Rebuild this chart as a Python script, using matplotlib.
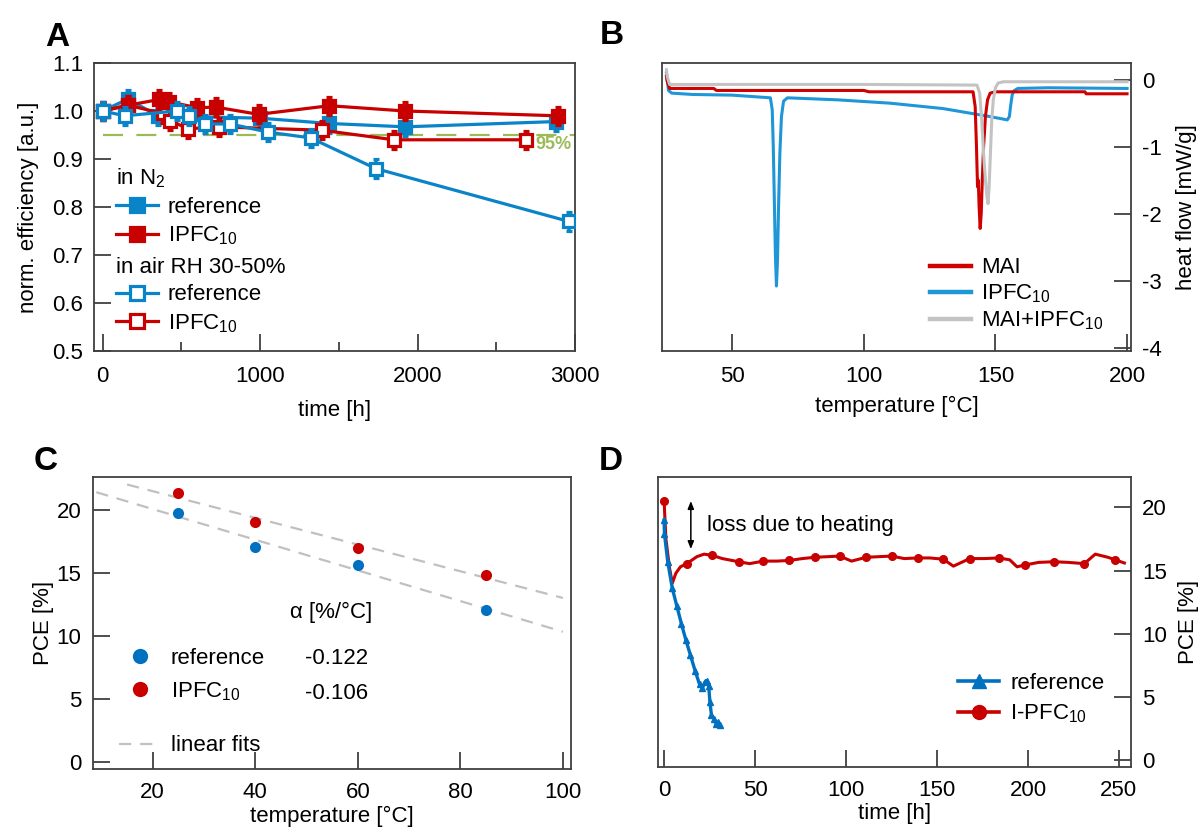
import numpy as np
import matplotlib
matplotlib.use('Agg')
import matplotlib.pyplot as plt
from matplotlib.lines import Line2D
from matplotlib.ticker import FixedLocator

plt.rcParams['font.family'] = ['Liberation Sans', 'DejaVu Sans']
plt.rcParams['mathtext.fontset'] = 'custom'
plt.rcParams['mathtext.rm'] = 'Liberation Sans'
plt.rcParams['mathtext.it'] = 'Liberation Sans:italic'
plt.rcParams['mathtext.default'] = 'regular'
plt.rcParams['axes.unicode_minus'] = False

# ---------------- Panel A: long-term stability ----------------
a_n2_ref_t = [0, 160, 350, 1000, 1440, 1920, 2880]
a_n2_ref_y = [1.0, 1.025, 0.99, 0.985, 0.974, 0.967, 0.978]
a_n2_ipfc_t = [0, 160, 360, 420, 600, 720, 990, 1440, 1920, 2890]
a_n2_ipfc_y = [1.0, 1.012, 1.024, 1.019, 1.007, 1.008, 0.993, 1.011, 1.0, 0.99]
a_air_ref_t = [0, 140, 470, 545, 650, 810, 1050, 1320, 1735, 2960]
a_air_ref_y = [1.0, 0.99, 1.0, 0.989, 0.973, 0.973, 0.956, 0.944, 0.880, 0.770]
a_air_ipfc_t = [0, 160, 380, 430, 540, 740, 1390, 1850, 2690]
a_air_ipfc_y = [1.0, 1.012, 0.995, 0.98, 0.963, 0.967, 0.96, 0.94, 0.94]
a_err = 0.019
a_threshold = 0.95
a_threshold_span = [0, 3000]

# ---------------- Panel B: DSC ----------------
b_mai_T = [25.0, 25.3, 26.2, 30, 43, 44, 100, 102, 141.5, 142.3, 142.8, 143.2, 143.5,
           143.8, 144.2, 144.6, 145.0, 145.5, 146.2, 147.0, 148.0, 150.0, 184.0, 184.5, 200]
b_mai_hf = [0.05, -0.02, -0.13, -0.13, -0.13, -0.16, -0.16, -0.18, -0.18, -0.4, -1.0, -1.6, -1.5,
            -1.9, -2.22, -2.0, -1.5, -1.0, -0.55, -0.3, -0.2, -0.18, -0.18, -0.21, -0.21]
b_ipfc_T = [25.0, 25.3, 25.8, 27.0, 35, 50, 64.5, 65.2, 65.6, 66.0, 66.4, 66.8, 67.2, 67.6,
            68.1, 68.7, 69.5, 71, 90, 110, 130, 145, 152, 154.5, 155.3, 155.8, 156.4, 157.2,
            158.5, 170, 200]
b_ipfc_hf = [0.1, 0.0, -0.16, -0.2, -0.22, -0.23, -0.27, -0.45, -1.0, -1.8, -2.6, -3.08, -2.7,
             -1.9, -1.1, -0.55, -0.32, -0.27, -0.3, -0.35, -0.43, -0.53, -0.58, -0.6, -0.55,
             -0.38, -0.22, -0.16, -0.13, -0.12, -0.13]
b_mix_T = [25.0, 25.3, 26.2, 30, 100, 143.0, 144.0, 144.8, 145.5, 146.2, 146.8, 147.2, 147.6,
           148.1, 148.6, 149.2, 150.0, 151.0, 153.0, 200]
b_mix_hf = [0.15, 0.05, -0.07, -0.07, -0.07, -0.08, -0.2, -0.6, -1.1, -1.5, -1.75, -1.85, -1.6,
            -1.1, -0.6, -0.3, -0.12, -0.05, -0.03, -0.03]

# ---------------- Panel C: PCE vs temperature ----------------
c_temp = [25, 40, 60, 85]
c_ref_pce = [19.74, 17.02, 15.59, 12.08]
c_ipfc_pce = [21.32, 19.02, 16.96, 14.85]
c_ref_alpha = '-0.122'
c_ipfc_alpha = '-0.106'
c_fit_range_ref = [9.0, 100.0]
c_fit_range_ipfc = [15.0, 100.0]

# ---------------- Panel D: PCE vs time at elevated temperature ----------------
d_ref_t = [0, 0.2, 2, 4.5, 7, 9.5, 12, 14.5, 17, 19.5, 21, 22.5, 23.5, 24.5, 25.2, 26,
           27.5, 28.5, 29.5, 30.5]
d_ref_pce = [19.0, 17.9, 15.7, 13.6, 12.2, 10.8, 9.5, 8.3, 7.1, 6.0, 5.7, 6.2, 6.3, 5.9,
             4.6, 3.6, 3.3, 2.9, 3.0, 2.8]
d_ipfc_t = [0, 1, 3, 4.5, 6.5, 9, 12.5, 18, 22, 26.5, 32, 41, 47, 54.5, 62, 68.7, 76, 82.7,
            90, 96.5, 103, 111, 118, 125, 132, 139.5, 146, 153.5, 159, 168, 176, 184, 190,
            194, 198.5, 206, 214.5, 222, 231, 237, 244, 248, 253]
d_ipfc_pce = [20.5, 17.5, 15.2, 14.0, 14.8, 15.3, 15.55, 16.1, 16.3, 16.2, 15.95, 15.7, 15.55,
              15.75, 15.75, 15.8, 15.95, 16.05, 16.1, 16.15, 15.75, 16.05, 16.1, 16.15, 15.95,
              16.0, 16.0, 15.9, 15.35, 15.95, 15.95, 16.0, 15.85, 15.3, 15.45, 15.65, 15.7,
              15.65, 15.55, 16.3, 16.05, 15.85, 15.6]
d_ipfc_marker_t = [0, 12.5, 26.5, 41, 54.5, 68.7, 82.7, 96.5, 111, 125, 139.5, 153.5, 168,
                   184, 198.5, 214.5, 231, 248]
d_loss_t = 14.7
d_loss_range = [20.5, 16.7]

BLUE_A = '#0A84C8'
RED = '#C80000'
BLUE_B = '#1E96D8'
GRAY_B = '#C3C3C3'
BLUE_CD = '#0070C0'
GREEN = '#9BBB59'
SPINE = '#404040'
FS = 16

fig = plt.figure(figsize=(12.01, 8.31), dpi=100)

def style(ax):
    for s in ax.spines.values():
        s.set_color(SPINE)
        s.set_linewidth(1.3)
    ax.tick_params(which='major', direction='in', length=12.5, width=1.3, color=SPINE,
                   labelsize=FS, pad=8)
    ax.tick_params(which='minor', direction='in', length=6.5, width=1.3, color=SPINE)
    ax.tick_params(axis='x', which='major', pad=10.5)

# ---------- A ----------
axA = fig.add_axes([0.0783, 0.5776, 0.4005, 0.3466])
style(axA)
axA.hlines(a_threshold, a_threshold_span[0], a_threshold_span[1], colors=GREEN, lw=1.6,
           linestyles=(0, (9, 6)), zorder=1)
axA.text(0.993, a_threshold - 0.02, '95%', color=GREEN, fontsize=13, fontweight='bold',
         ha='right', va='center', transform=axA.get_yaxis_transform())

def a_series(t, y, color, filled, z):
    axA.errorbar(t, y, yerr=a_err, color=color, lw=2.3, marker='s', ms=8.0, mew=2.3,
                 mfc=color if filled else 'white', mec=color, elinewidth=2.6, capsize=2.2,
                 capthick=2.0, zorder=z)

a_series(a_n2_ref_t, a_n2_ref_y, BLUE_A, True, 2)
a_series(a_air_ipfc_t, a_air_ipfc_y, RED, False, 3)
a_series(a_n2_ipfc_t, a_n2_ipfc_y, RED, True, 4)
a_series(a_air_ref_t, a_air_ref_y, BLUE_A, False, 5)
axA.set_xlim(-55, 3000)
axA.set_ylim(0.5, 1.1)
axA.set_xticks([0, 1000, 2000, 3000])
axA.xaxis.set_minor_locator(FixedLocator([500, 1500, 2500]))
axA.set_yticks([0.5, 0.6, 0.7, 0.8, 0.9, 1.0, 1.1])
axA.set_yticklabels(['0.5', '0.6', '0.7', '0.8', '0.9', '1.0', '1.1'])
axA.set_xlabel('time [h]', fontsize=FS, labelpad=10)
axA.set_ylabel('norm. efficiency [a.u.]', fontsize=FS, labelpad=9)

def hA(color, filled):
    return Line2D([], [], color=color, lw=2.3, marker='s', ms=9.5, mew=2.3,
                  mfc=color if filled else 'white', mec=color)

leg_kw = dict(title_fontsize=FS, fontsize=FS, alignment='left', loc='upper left',
              frameon=False, borderpad=0, handlelength=1.9, handletextpad=0.45,
              labelspacing=0.3, borderaxespad=0)
leg1 = axA.legend([hA(BLUE_A, True), hA(RED, True)], ['reference', 'IPFC$_{10}$'],
                  title='in N$_2$', bbox_to_anchor=(0.045, 0.64), **leg_kw)
axA.add_artist(leg1)
axA.legend([hA(BLUE_A, False), hA(RED, False)], ['reference', 'IPFC$_{10}$'],
           title='in air RH 30-50%', bbox_to_anchor=(0.045, 0.327), **leg_kw)

# ---------- B ----------
axB = fig.add_axes([0.5516, 0.5776, 0.3901, 0.3466])
style(axB)
axB.plot(b_mai_T, b_mai_hf, color='#D00000', lw=2.2, label='MAI', zorder=3)
axB.plot(b_ipfc_T, b_ipfc_hf, color=BLUE_B, lw=2.2, label='IPFC$_{10}$', zorder=2)
axB.plot(b_mix_T, b_mix_hf, color=GRAY_B, lw=2.2, label='MAI+IPFC$_{10}$', zorder=4)
axB.set_xlim(23.5, 201.5)
axB.set_ylim(-4.05, 0.25)
axB.set_xticks([50, 100, 150, 200])
axB.set_yticks([0, -1, -2, -3, -4])
axB.yaxis.tick_right()
axB.yaxis.set_label_position('right')
axB.set_xlabel('temperature [°C]', fontsize=FS, labelpad=7)
axB.set_ylabel('heat flow [mW/g]', fontsize=FS, labelpad=10, rotation=90)
legB = axB.legend(loc='upper left', bbox_to_anchor=(0.57, 0.325), frameon=False, fontsize=FS,
                  borderpad=0, handlelength=1.85, handletextpad=0.45, labelspacing=0.2,
                  borderaxespad=0)
for l in legB.get_lines():
    l.set_linewidth(3.2)

# ---------- C ----------
axC = fig.add_axes([0.0772, 0.0746, 0.3983, 0.3514])
style(axC)
for temps, pce, rng in [(c_temp, c_ref_pce, c_fit_range_ref),
                        (c_temp, c_ipfc_pce, c_fit_range_ipfc)]:
    k, b = np.polyfit(temps, pce, 1)
    xs = np.array(rng)
    axC.plot(xs, k * xs + b, color='#C0C0C0', lw=1.6, linestyle=(0, (5.5, 4)), zorder=1)
axC.plot(c_temp, c_ref_pce, 'o', color=BLUE_CD, ms=8, mew=0, zorder=3)
axC.plot(c_temp, c_ipfc_pce, 'o', color=RED, ms=8, mew=0, zorder=3)
axC.set_xlim(8.3, 101.6)
axC.set_ylim(-0.55, 22.6)
axC.set_xticks([20, 40, 60, 80, 100])
axC.set_yticks([0, 5, 10, 15, 20])
axC.tick_params(axis='x', which='major', pad=9.5)
axC.set_xlabel('temperature [°C]', fontsize=FS, labelpad=2)
axC.set_ylabel('PCE [%]', fontsize=FS, labelpad=2)
hC = [Line2D([], [], ls='none', marker='o', ms=11, color=BLUE_CD, mew=0),
      Line2D([], [], ls='none', marker='o', ms=11, color=RED, mew=0)]
legC = axC.legend(hC, ['reference', 'IPFC$_{10}$'], loc='upper left',
                  bbox_to_anchor=(0.075, 0.415), frameon=False, fontsize=FS, borderpad=0,
                  handlelength=1.0, handletextpad=0.9, labelspacing=0.5, borderaxespad=0)
axC.add_artist(legC)
axC.legend([Line2D([], [], color='#C0C0C0', lw=1.6, linestyle=(0, (5.5, 4)))],
           ['linear fits'], loc='upper left', bbox_to_anchor=(0.055, 0.115), frameon=False,
           fontsize=FS, borderpad=0, handlelength=1.9, handletextpad=0.45, borderaxespad=0)
axC.text(46.8, 11.9, 'α [%/°C]', fontsize=FS, va='center', ha='left')
axC.text(49.7, 8.2, c_ref_alpha, fontsize=FS, va='center', ha='left')
axC.text(49.7, 5.4, c_ipfc_alpha, fontsize=FS, va='center', ha='left')

# ---------- D ----------
axD = fig.add_axes([0.5475, 0.077, 0.3943, 0.349])
style(axD)
mk_idx = [i for i, t in enumerate(d_ipfc_t) if t in d_ipfc_marker_t]
axD.plot(d_ipfc_t, d_ipfc_pce, color=RED, lw=2.2, marker='o', ms=5.5, markevery=mk_idx,
         zorder=2)
axD.plot(d_ref_t, d_ref_pce, color=BLUE_CD, lw=2.4, marker='^', ms=5, zorder=3)
axD.set_xlim(-3.6, 256.7)
axD.set_ylim(-0.53, 22.4)
axD.set_xticks([0, 50, 100, 150, 200, 250])
axD.set_yticks([0, 5, 10, 15, 20])
axD.yaxis.tick_right()
axD.yaxis.set_label_position('right')
axD.tick_params(axis='x', which='major', pad=9)
axD.set_xlabel('time [h]', fontsize=FS, labelpad=2)
axD.set_ylabel('PCE [%]', fontsize=FS, labelpad=8, rotation=90)
axD.annotate('', xy=(d_loss_t, d_loss_range[1]), xytext=(d_loss_t, d_loss_range[0]),
             arrowprops=dict(arrowstyle='<|-|>,head_length=0.45,head_width=0.18',
                             color='black', lw=1.1, shrinkA=0, shrinkB=0))
axD.text(23.4, 18.55, 'loss due to heating', fontsize=FS, va='center', ha='left')
hD = [Line2D([], [], color=BLUE_CD, lw=2.6, marker='^', ms=10),
      Line2D([], [], color=RED, lw=2.6, marker='o', ms=10)]
axD.legend(hD, ['reference', 'I-PFC$_{10}$'], loc='upper left', bbox_to_anchor=(0.635, 0.325),
           frameon=False, fontsize=FS, borderpad=0, handlelength=1.85, handletextpad=0.5,
           labelspacing=0.4, borderaxespad=0)

# panel letters
for lbl, x, y in [('A', 57, 37), ('B', 612, 35), ('C', 46, 461), ('D', 611, 461)]:
    fig.text(x / 1201, 1 - y / 831, lbl, fontsize=24, fontweight='bold', ha='center',
             va='center')

fig.savefig('out.png', dpi=100)
